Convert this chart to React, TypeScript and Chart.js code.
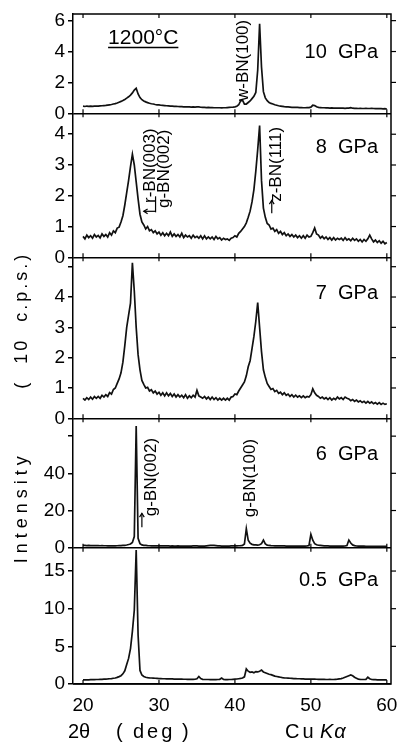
import React, { useEffect, useRef } from 'react';
import { Chart, registerables } from 'chart.js';

Chart.register(...registerables);

// ---------- data (2θ in degrees, intensity in 10 c.p.s.) ----------
const ANGLES = [
  20, 20.25, 20.5, 20.75, 21, 21.25, 21.5, 21.75, 22, 22.25, 22.5, 22.75, 23, 23.25, 23.5, 23.75,
  24, 24.25, 24.5, 24.75, 25, 25.25, 25.5, 25.75, 26, 26.25, 26.5, 26.75, 27, 27.25, 27.5, 27.75,
  28, 28.25, 28.5, 28.75, 29, 29.25, 29.5, 29.75, 30, 30.25, 30.5, 30.75, 31, 31.25, 31.5, 31.75,
  32, 32.25, 32.5, 32.75, 33, 33.25, 33.5, 33.75, 34, 34.25, 34.5, 34.75, 35, 35.25, 35.5, 35.75,
  36, 36.25, 36.5, 36.75, 37, 37.25, 37.5, 37.75, 38, 38.25, 38.5, 38.75, 39, 39.25, 39.5, 39.75,
  40, 40.25, 40.5, 40.75, 41, 41.25, 41.5, 41.75, 42, 42.25, 42.5, 42.75, 43, 43.25, 43.5, 43.75,
  44, 44.25, 44.5, 44.75, 45, 45.25, 45.5, 45.75, 46, 46.25, 46.5, 46.75, 47, 47.25, 47.5, 47.75,
  48, 48.25, 48.5, 48.75, 49, 49.25, 49.5, 49.75, 50, 50.25, 50.5, 50.75, 51, 51.25, 51.5, 51.75,
  52, 52.25, 52.5, 52.75, 53, 53.25, 53.5, 53.75, 54, 54.25, 54.5, 54.75, 55, 55.25, 55.5, 55.75,
  56, 56.25, 56.5, 56.75, 57, 57.25, 57.5, 57.75, 58, 58.25, 58.5, 58.75, 59, 59.25, 59.5, 59.75,
  60,
];

const I_10GPA = [
  0.46, 0.44, 0.47, 0.45, 0.46, 0.45, 0.47, 0.46, 0.47, 0.48, 0.49, 0.5, 0.51, 0.53, 0.55, 0.57,
  0.6, 0.63, 0.67, 0.72, 0.77, 0.83, 0.9, 0.98, 1.07, 1.18, 1.32, 1.5, 1.62, 1.25, 1.02, 0.88,
  0.8, 0.74, 0.69, 0.65, 0.62, 0.6, 0.57, 0.55, 0.54, 0.52, 0.51, 0.5, 0.49, 0.48, 0.47, 0.46,
  0.45, 0.45, 0.44, 0.43, 0.43, 0.42, 0.42, 0.41, 0.41, 0.4, 0.41, 0.4, 0.42, 0.41, 0.39, 0.38,
  0.38, 0.37, 0.38, 0.37, 0.37, 0.36, 0.36, 0.36, 0.36, 0.35, 0.36, 0.36, 0.37, 0.38, 0.39, 0.4,
  0.42, 0.46, 0.55, 0.8, 0.85, 0.6, 0.6, 0.7, 0.8, 0.95, 1.1, 1.35, 2.8, 5.8, 3.0, 1.4,
  1.0, 0.82, 0.7, 0.64, 0.6, 0.55, 0.52, 0.49, 0.47, 0.45, 0.43, 0.42, 0.41, 0.4, 0.39, 0.39,
  0.38, 0.38, 0.37, 0.37, 0.36, 0.36, 0.37, 0.37, 0.4, 0.52, 0.5, 0.42, 0.38, 0.37, 0.36, 0.36,
  0.35, 0.35, 0.34, 0.35, 0.34, 0.33, 0.33, 0.34, 0.33, 0.34, 0.32, 0.33, 0.34, 0.36, 0.33, 0.32,
  0.32, 0.31, 0.32, 0.31, 0.31, 0.32, 0.31, 0.31, 0.32, 0.31, 0.3, 0.31, 0.3, 0.3, 0.29, 0.3,
  0.28,
];

const I_8GPA = [
  0.68, 0.6, 0.72, 0.64, 0.7, 0.62, 0.74, 0.66, 0.71, 0.63, 0.76, 0.68, 0.74, 0.66, 0.8, 0.72,
  0.86, 0.8, 0.95, 0.98, 1.15, 1.35, 1.7, 2.1, 2.5, 2.95, 3.35, 3.0, 2.45, 1.9, 1.4, 1.15,
  1.05, 0.92, 1.0, 0.86, 0.9, 0.8, 0.86, 0.76, 0.82, 0.72, 0.8, 0.7, 0.78, 0.7, 0.82, 0.68,
  0.76, 0.68, 0.74, 0.66, 0.78, 0.64, 0.72, 0.66, 0.7, 0.62, 0.72, 0.64, 0.68, 0.62, 0.7, 0.6,
  0.7, 0.6, 0.66, 0.6, 0.66, 0.58, 0.68, 0.6, 0.64, 0.56, 0.62, 0.58, 0.6, 0.55, 0.62, 0.64,
  0.7, 0.66, 0.78, 0.84, 0.92, 1.0, 1.12, 1.3, 1.5, 1.8, 2.2, 2.8, 3.5, 4.28, 2.5, 1.6,
  1.3, 1.1, 1.05, 0.92, 0.95, 0.84, 0.9, 0.78, 0.84, 0.74, 0.8, 0.7, 0.76, 0.68, 0.74, 0.66,
  0.72, 0.64, 0.7, 0.62, 0.7, 0.62, 0.72, 0.66, 0.68, 0.8, 0.95, 0.76, 0.72, 0.62, 0.68, 0.6,
  0.66, 0.58, 0.64, 0.56, 0.64, 0.56, 0.62, 0.58, 0.62, 0.55, 0.64, 0.56, 0.6, 0.54, 0.62, 0.55,
  0.6, 0.52, 0.58, 0.5, 0.58, 0.52, 0.6, 0.72, 0.6, 0.5, 0.56, 0.48, 0.54, 0.46, 0.52, 0.44,
  0.48,
];

const I_7GPA = [
  0.66, 0.6, 0.68, 0.62, 0.7, 0.63, 0.72, 0.66, 0.72, 0.66, 0.76, 0.7, 0.78, 0.72, 0.85, 0.8,
  0.95, 1.0, 1.15, 1.3, 1.5, 1.85, 2.4, 3.0, 3.4, 3.8, 5.13, 4.2, 3.0, 2.1, 1.6, 1.25,
  1.12, 1.0, 1.02, 0.9, 0.94, 0.84, 0.9, 0.8, 0.86, 0.76, 0.84, 0.74, 0.84, 0.74, 0.82, 0.72,
  0.8, 0.7, 0.78, 0.7, 0.76, 0.68, 0.78, 0.66, 0.74, 0.68, 0.76, 0.7, 0.92, 0.74, 0.7, 0.66,
  0.72, 0.64, 0.7, 0.62, 0.7, 0.62, 0.68, 0.6, 0.66, 0.6, 0.66, 0.6, 0.66, 0.6, 0.7, 0.72,
  0.8, 0.78, 0.9, 1.0, 1.1, 1.2, 1.4, 1.7, 1.9, 2.3, 2.7, 3.2, 3.82, 3.0, 2.2, 1.6,
  1.35, 1.15, 1.05, 0.95, 0.98, 0.88, 0.92, 0.82, 0.86, 0.78, 0.84, 0.76, 0.8, 0.72, 0.78, 0.7,
  0.76, 0.7, 0.74, 0.68, 0.74, 0.68, 0.72, 0.7, 0.78, 0.97, 0.84, 0.76, 0.72, 0.66, 0.7, 0.64,
  0.68, 0.62, 0.68, 0.6, 0.66, 0.62, 0.7, 0.64, 0.68, 0.62, 0.7, 0.66, 0.64, 0.58, 0.62, 0.56,
  0.6, 0.54, 0.58, 0.52, 0.56, 0.5, 0.56, 0.5, 0.54, 0.48, 0.52, 0.47, 0.52, 0.46, 0.5, 0.46,
  0.48,
];

const I_6GPA = [
  1.2, 1.2, 1.15, 1.2, 1.15, 1.1, 1.15, 1.1, 1.1, 1.05, 1.1, 1.05, 1.05, 1.0, 1.05, 1.0,
  1.0, 1.0, 1.05, 1.1, 1.1, 1.2, 1.3, 1.45, 1.7, 2.0, 2.8, 6.0, 65.4, 5.0, 2.2, 1.5,
  1.3, 1.2, 1.1, 1.05, 1.0, 1.0, 0.95, 1.0, 1.0, 0.95, 1.0, 0.95, 0.95, 0.95, 0.9, 0.95,
  0.9, 0.9, 0.95, 0.9, 0.9, 0.9, 0.9, 0.9, 0.9, 0.9, 0.95, 1.0, 0.95, 0.9, 0.9, 0.9,
  0.9, 1.0, 1.1, 1.2, 1.3, 1.2, 1.1, 1.0, 0.95, 0.9, 0.9, 0.9, 0.9, 0.9, 0.95, 1.0,
  1.0, 1.0, 1.05, 1.1, 1.2, 2.0, 10.2, 4.0, 2.4, 1.8, 1.5, 1.5, 1.4, 1.6, 2.2, 4.1,
  2.0, 1.4, 1.2, 1.1, 1.05, 1.0, 1.0, 0.95, 0.95, 0.95, 0.95, 0.9, 0.9, 0.9, 0.9, 0.9,
  0.9, 0.85, 0.9, 0.9, 0.9, 0.9, 0.95, 1.2, 7.2, 4.0, 2.2, 1.6, 1.3, 1.2, 1.1, 1.0,
  1.0, 0.95, 0.9, 0.9, 0.9, 0.85, 0.85, 0.85, 0.85, 0.85, 0.9, 1.2, 4.1, 2.5, 1.5, 1.1,
  0.9, 0.85, 0.8, 0.8, 0.8, 0.75, 0.75, 0.75, 0.75, 0.7, 0.7, 0.7, 0.7, 0.7, 0.7, 0.75,
  0.7,
];

const I_05GPA = [
  0.55, 0.55, 0.56, 0.56, 0.57, 0.58, 0.58, 0.6, 0.6, 0.61, 0.62, 0.64, 0.65, 0.67, 0.7, 0.72,
  0.76, 0.8, 0.88, 0.98, 1.1, 1.35, 1.75, 2.6, 3.4, 4.7, 7.0, 9.8, 17.8, 6.5, 1.8, 1.2,
  1.0, 0.9, 0.85, 0.82, 0.8, 0.78, 0.76, 0.74, 0.72, 0.72, 0.7, 0.7, 0.69, 0.68, 0.68, 0.67,
  0.66, 0.66, 0.65, 0.64, 0.64, 0.63, 0.63, 0.62, 0.62, 0.62, 0.62, 0.63, 0.7, 1.0, 0.72, 0.62,
  0.6, 0.6, 0.6, 0.59, 0.58, 0.58, 0.58, 0.6, 0.62, 0.78, 0.6, 0.58, 0.58, 0.6, 0.6, 0.62,
  0.64, 0.66, 0.7, 0.74, 0.8, 0.95, 2.0, 1.7, 1.55, 1.6, 1.5, 1.65, 1.6, 1.7, 1.85, 1.6,
  1.5, 1.4, 1.3, 1.25, 1.15, 1.05, 1.0, 0.95, 0.9, 0.85, 0.82, 0.8, 0.78, 0.76, 0.74, 0.72,
  0.72, 0.7, 0.7, 0.68, 0.68, 0.66, 0.66, 0.65, 0.65, 0.64, 0.64, 0.63, 0.62, 0.62, 0.62, 0.61,
  0.6, 0.6, 0.61, 0.6, 0.6, 0.62, 0.64, 0.68, 0.72, 0.8, 0.9, 1.0, 1.1, 1.2, 1.1, 0.9,
  0.75, 0.65, 0.62, 0.6, 0.6, 0.62, 0.9, 0.7, 0.6, 0.58, 0.57, 0.56, 0.56, 0.55, 0.55, 0.55,
  0.55,
];

const PANEL_LABELS = ['10  GPa', '8  GPa', '7  GPa', '6  GPa', '0.5  GPa'];
const X_TICKS = [20, 30, 40, 50, 60];
const Y_MAX = [6.43, 4.68, 5.31, 69.6, 18.1];
const Y_STEP = [2, 1, 1, 20, 5];
const Y_UNLABELED = [[], [], [5], [60], []];

// ---------- layout / style ----------
const FONT = "'Liberation Sans', Arial, sans-serif";
const PANEL_KEYS = ['p1', 'p2', 'p3', 'p4', 'p5'];
const PANEL_WEIGHTS = [99.3, 144, 161, 129.4, 136.3];
const SERIES = [I_10GPA, I_8GPA, I_7GPA, I_6GPA, I_05GPA];

function vText(ctx: CanvasRenderingContext2D, text: string, x: number, y: number, size: number) {
  ctx.save();
  ctx.translate(x, y);
  ctx.rotate(-Math.PI / 2);
  ctx.font = `${size}px ${FONT}`;
  ctx.textAlign = 'left';
  ctx.textBaseline = 'middle';
  ctx.fillText(text, 0, 0);
  ctx.restore();
}

function arrow(ctx: CanvasRenderingContext2D, x1: number, y1: number, x2: number, y2: number) {
  ctx.beginPath();
  ctx.moveTo(x1, y1);
  ctx.lineTo(x2, y2);
  ctx.stroke();
  const a = Math.atan2(y2 - y1, x2 - x1);
  const h = 4.5;
  ctx.beginPath();
  ctx.moveTo(x2 - h * Math.cos(a - 0.55), y2 - h * Math.sin(a - 0.55));
  ctx.lineTo(x2, y2);
  ctx.lineTo(x2 - h * Math.cos(a + 0.55), y2 - h * Math.sin(a + 0.55));
  ctx.stroke();
}

const decor = {
  id: 'decor',
  afterDraw(chart: any) {
    const { ctx, chartArea: a, scales } = chart;
    const xs = scales.x;
    const px = (v: number) => xs.getPixelForValue(v);
    const P = PANEL_KEYS.map((k) => scales[k]);
    ctx.save();
    ctx.strokeStyle = '#000';
    ctx.fillStyle = '#000';
    ctx.lineWidth = 1.5;
    // frame
    ctx.beginPath();
    ctx.moveTo(a.left, a.top);
    ctx.lineTo(a.right, a.top);
    ctx.lineTo(a.right, a.bottom);
    ctx.lineTo(a.left, a.bottom);
    ctx.stroke();
    // x ticks on every panel boundary
    ctx.lineWidth = 1.2;
    const bounds = [a.top, ...P.map((p: any) => p.bottom)];
    bounds.forEach((y: number, i: number) => {
      X_TICKS.forEach((v) => {
        const x = px(v);
        const up = i === 0 ? 0 : 4;
        const down = i === bounds.length - 1 ? 0 : 4;
        ctx.beginPath();
        ctx.moveTo(x, y - up);
        ctx.lineTo(x, y + down);
        ctx.stroke();
      });
    });
    // mirrored y ticks on the right
    P.forEach((p: any) => {
      p.ticks.forEach((t: any) => {
        if (t.value === 0) return;
        const y = p.getPixelForValue(t.value);
        ctx.beginPath();
        ctx.moveTo(a.right, y);
        ctx.lineTo(a.right + 5, y);
        ctx.stroke();
      });
    });

    // panel labels
    const labelOffsets = [44, 39.5, 42, 42, 38];
    ctx.font = `20px ${FONT}`;
    ctx.textAlign = 'right';
    ctx.textBaseline = 'alphabetic';
    P.forEach((p: any, i: number) => {
      ctx.fillText(PANEL_LABELS[i], a.right - 13, p.top + labelOffsets[i]);
    });

    // 1200°C underlined
    ctx.textAlign = 'left';
    ctx.font = `21px ${FONT}`;
    const tx = px(23.3);
    const ty = P[0].top + 30;
    ctx.fillText('1200°C', tx, ty);
    const tw = ctx.measureText('1200°C').width;
    ctx.lineWidth = 1.3;
    ctx.beginPath();
    ctx.moveTo(tx, ty + 3.5);
    ctx.lineTo(tx + tw, ty + 3.5);
    ctx.stroke();

    // peak annotations
    vText(ctx, 'w-BN(100)', px(41.1), P[0].top + 87, 17);
    vText(ctx, 'r-BN(003)', px(28.85), P[1].top + 89.7, 17);
    vText(ctx, 'g-BN(002)', px(30.7), P[1].top + 94.7, 17);
    ctx.lineWidth = 1.2;
    ctx.beginPath();
    ctx.moveTo(px(29.55), P[1].top + 83);
    ctx.lineTo(px(29.55), P[1].top + 99);
    ctx.stroke();
    arrow(ctx, px(29.55), P[1].top + 98, px(28.0), P[1].top + 98);
    vText(ctx, 'z-BN(111)', px(45.5), P[1].top + 88.5, 17);
    arrow(ctx, px(44.85), P[1].top + 100, px(44.85), P[1].top + 87);
    vText(ctx, 'g-BN(002)', px(29.0), P[3].top + 98, 17);
    arrow(ctx, px(27.75), P[3].top + 109, px(27.75), P[3].top + 95);
    vText(ctx, 'g-BN(100)', px(42.0), P[3].top + 99, 17);

    // y-axis title
    ctx.save();
    ctx.translate(a.left - 51, 0);
    ctx.rotate(-Math.PI / 2);
    ctx.font = `18px ${FONT}`;
    ctx.textAlign = 'center';
    ctx.textBaseline = 'middle';
    (ctx as any).letterSpacing = '5px';
    ctx.fillText('Intensity', -(P[2].bottom + 89), 0);
    (ctx as any).letterSpacing = '3px';
    ctx.fillText('(  10  c.p.s.)', -(P[2].top + 63), 0);
    ctx.restore();

    // x-axis title
    const by = a.bottom + 54;
    ctx.font = `20px ${FONT}`;
    ctx.textAlign = 'left';
    ctx.textBaseline = 'alphabetic';
    ctx.fillText('2θ', a.left - 5, by);
    ctx.fillText('(', a.left + 43, by);
    (ctx as any).letterSpacing = '3px';
    ctx.fillText('deg', a.left + 60, by);
    (ctx as any).letterSpacing = '0px';
    ctx.fillText(')', a.left + 109, by);
    (ctx as any).letterSpacing = '3px';
    ctx.fillText('Cu', a.left + 212, by);
    (ctx as any).letterSpacing = '1px';
    ctx.font = `italic 20px ${FONT}`;
    ctx.fillText('Kα', a.left + 247, by);
    (ctx as any).letterSpacing = '0px';
    ctx.restore();
  },
};

function yAxis(i: number) {
  return {
    type: 'linear',
    position: 'left',
    stack: 'panels',
    stackWeight: PANEL_WEIGHTS[i],
    min: 0,
    max: Y_MAX[i],
    afterFit: (s: any) => {
      s.width = 73;
      s.paddingTop = 0;
      s.paddingBottom = 0;
    },
    ticks: {
      stepSize: Y_STEP[i],
      includeBounds: false,
      autoSkip: false,
      color: '#000',
      padding: 3,
      font: { family: FONT, size: 19 },
      callback: (v: any) => (Y_UNLABELED[i].includes(v) ? '' : String(v)),
    },
    grid: {
      drawOnChartArea: true,
      color: (c: any) => (c.tick && c.tick.value === 0 ? '#000' : 'rgba(0,0,0,0)'),
      tickColor: '#000',
      tickLength: 5,
      lineWidth: 1.5,
    },
    border: { display: true, color: '#000', width: 1.5 },
  };
}

export default function App() {
  const ref = useRef<HTMLCanvasElement>(null);
  useEffect(() => {
    const scales: any = {
      x: {
        type: 'linear',
        position: 'bottom',
        min: 18.68,
        max: 60.55,
        afterFit: (s: any) => {
          s.height = 58;
          s.paddingLeft = 0;
          s.paddingRight = 0;
        },
        ticks: {
          stepSize: 10,
          includeBounds: false,
          autoSkip: false,
          maxRotation: 0,
          color: '#000',
          padding: 10,
          font: { family: FONT, size: 19 },
        },
        grid: { display: false, drawTicks: false },
        border: { display: false },
      },
    };
    for (let i = PANEL_KEYS.length - 1; i >= 0; i--) {
      scales[PANEL_KEYS[i]] = yAxis(i);
    }
    const datasets = SERIES.map((ys, i) => ({
      label: PANEL_LABELS[i],
      data: ANGLES.map((a, j) => ({ x: a, y: ys[j] })),
      yAxisID: PANEL_KEYS[i],
      borderColor: '#111',
      borderWidth: 1.7,
      pointRadius: 0,
      tension: 0,
      fill: false,
    }));
    const chart = new Chart(ref.current as HTMLCanvasElement, {
      type: 'line',
      data: { datasets },
      options: {
        animation: false,
        responsive: false,
        events: [],
        layout: { padding: { top: 14, right: 7, left: 0, bottom: 0 } },
        plugins: { legend: { display: false }, tooltip: { enabled: false } },
        scales,
      } as any,
      plugins: [decor as any],
    });
    return () => chart.destroy();
  }, []);
  return (
    <div style={{ position: 'absolute', left: 0, top: 0, width: 398, height: 742, background: '#fff' }}>
      <canvas ref={ref} width={398} height={742} style={{ display: 'block', width: 398, height: 742 }} />
    </div>
  );
}
